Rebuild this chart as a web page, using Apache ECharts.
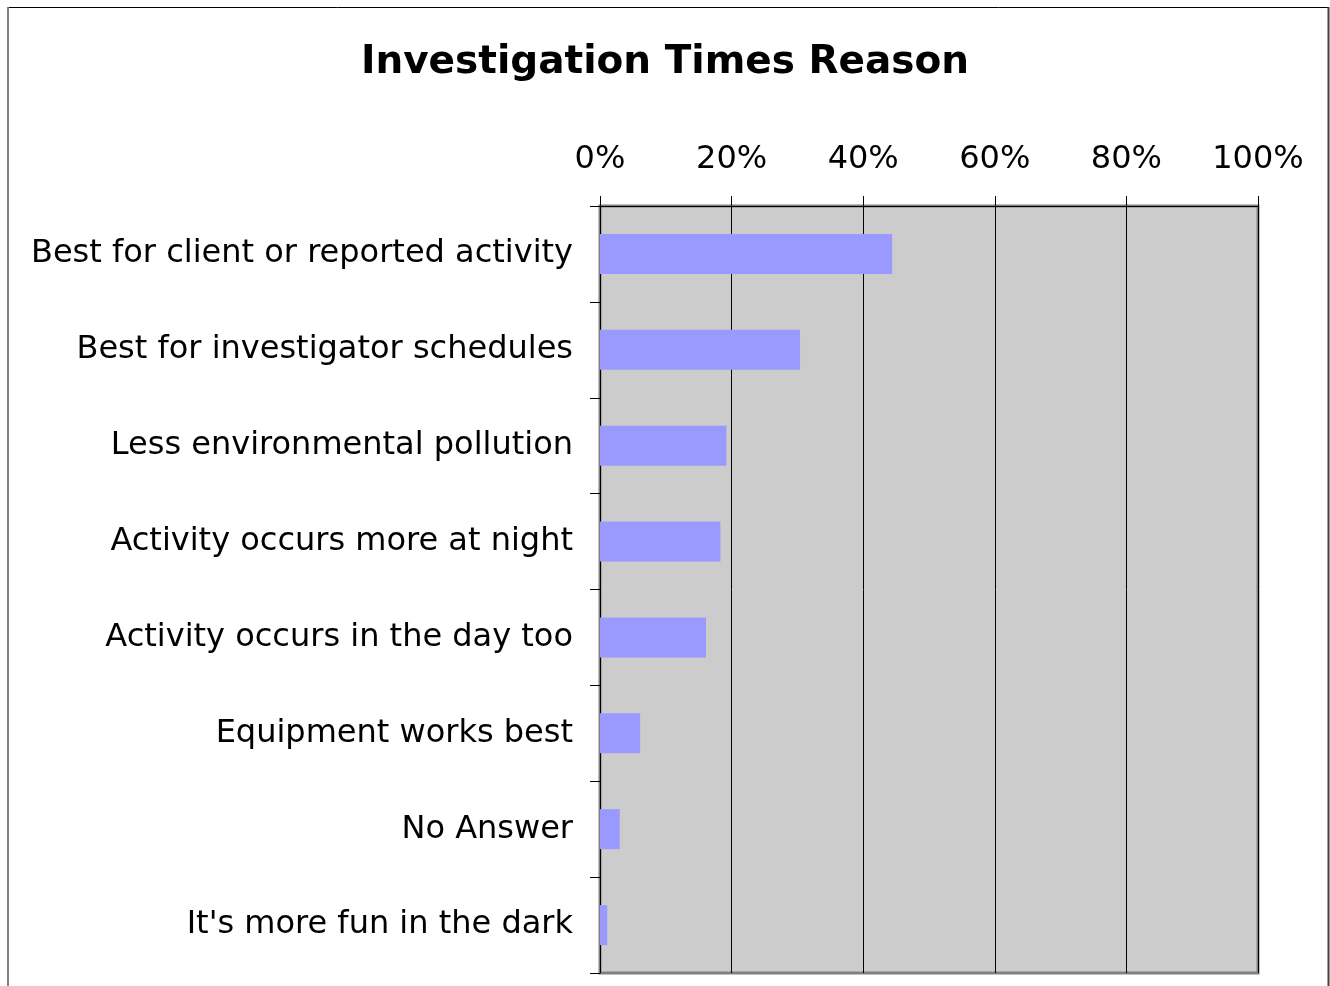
<!DOCTYPE html>
<html>
<head>
<meta charset="utf-8">
<script src="https://cdn.jsdelivr.net/npm/echarts@6/dist/echarts.min.js"></script>
<style>
html,body{margin:0;padding:0;background:#fff;}
#chart{width:1330px;height:986px;}
</style>
</head>
<body>
<div id="chart"></div>
<script>
var categories = [
  "Best for client or reported activity",
  "Best for investigator schedules",
  "Less environmental pollution",
  "Activity occurs more at night",
  "Activity occurs in the day too",
  "Equipment works best",
  "No Answer",
  "It's more fun in the dark"
];
var values = [44.4, 30.4, 19.2, 18.3, 16.1, 6.1, 3.0, 1.1];
var tickValues = [0, 20, 40, 60, 80, 100];

var chart = echarts.init(document.getElementById('chart'), null, {renderer: 'canvas'});
var font = 'DejaVu Sans';
chart.setOption({
  animation: false,
  backgroundColor: '#ffffff',
  title: {
    text: 'Investigation Times Reason',
    left: 'center',
    top: 38,
    textStyle: {fontFamily: font, fontSize: 39, fontWeight: 'bold', color: '#000'}
  },
  graphic: [
    {type: 'line', shape: {x1: 7, y1: 7.5, x2: 1329, y2: 7.5}, style: {stroke: '#000', lineWidth: 1}},
    {type: 'line', shape: {x1: 8, y1: 7, x2: 8, y2: 986}, style: {stroke: '#808080', lineWidth: 2}},
    {type: 'line', shape: {x1: 1328.5, y1: 7, x2: 1328.5, y2: 986}, style: {stroke: '#404040', lineWidth: 2}}
  ],
  grid: {
    left: 600, right: 72, top: 206, bottom: 13,
    show: true, backgroundColor: '#cccccc', borderColor: '#808080', borderWidth: 3
  },
  xAxis: {
    type: 'value', position: 'top', min: tickValues[0], max: tickValues[tickValues.length - 1], interval: 20,
    axisLine: {show: true, lineStyle: {color: '#000', width: 1}},
    axisTick: {show: true, length: 10, lineStyle: {color: '#000'}},
    splitLine: {show: true, lineStyle: {color: '#000', width: 1}},
    axisLabel: {formatter: '{value}%', fontFamily: font, fontSize: 32, color: '#000', margin: 30}
  },
  yAxis: {
    type: 'category', data: categories, inverse: true,
    axisLine: {show: true, lineStyle: {color: '#000', width: 1}},
    axisTick: {show: true, length: 10, alignWithLabel: false, lineStyle: {color: '#000'}},
    axisLabel: {fontFamily: font, fontSize: 32, color: '#000', margin: 27, padding: [6, 0, 0, 0]}
  },
  series: [{
    type: 'bar', data: values, barWidth: 40,
    itemStyle: {color: '#9999ff'}
  }]
});
</script>
</body>
</html>
